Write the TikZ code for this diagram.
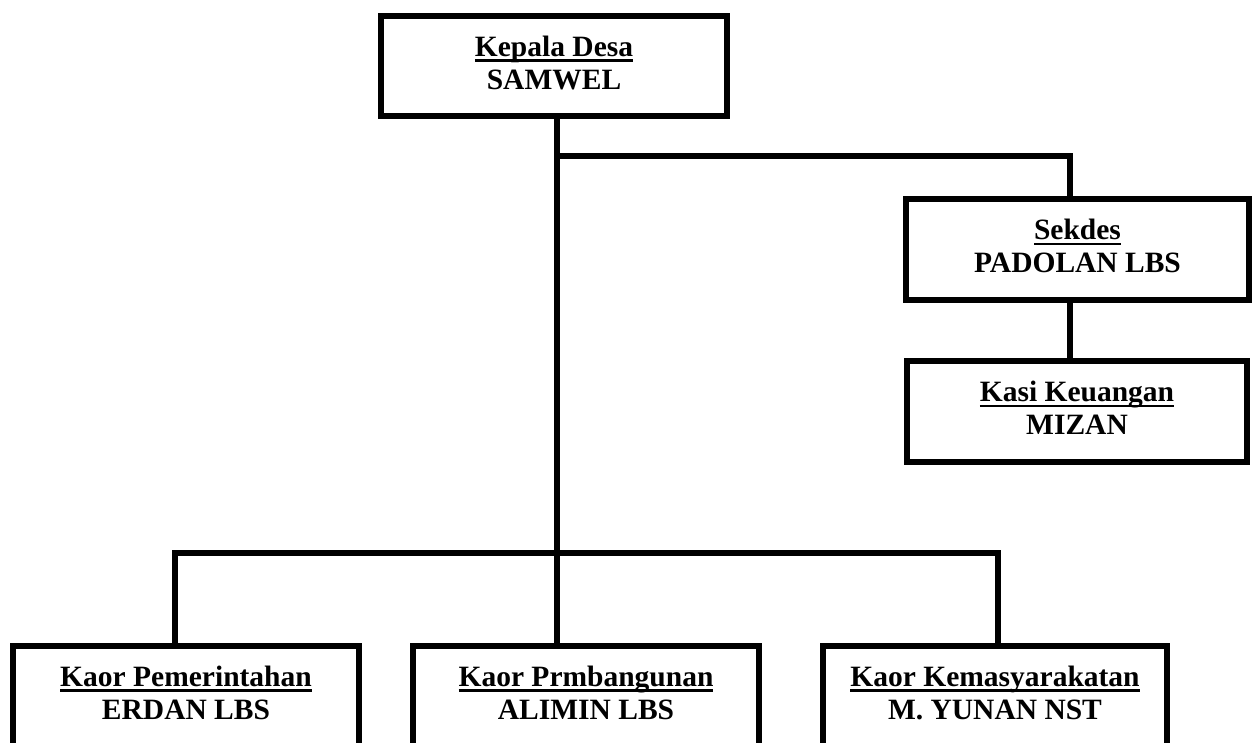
\documentclass[tikz,border=0pt]{standalone}
\usepackage{fontspec}
\setmainfont{Liberation Serif}
\newcommand\ulx[1]{\setbox0\hbox{#1}\rlap{\rule[-5.5pt]{\wd0}{2.3pt}}\box0}
\newcommand\dpx{\rule[-7pt]{0pt}{7pt}}
\tikzset{
  orgbox/.style={draw=black, line width=6pt, line join=miter, rectangle, align=center,
    inner sep=0pt, font=\fontsize{29.5pt}{33pt}\selectfont\bfseries},
  conn/.style={draw=black, line width=6pt, line join=miter}
}
\begin{document}
\begin{tikzpicture}[x=1pt,y=-1pt]
\useasboundingbox (0,0) rectangle (1252,742);
\clip (0,0) rectangle (1252,742);
% nodes
\node[orgbox, minimum width=346pt, minimum height=100pt] (kd) at (554,66) {\ulx{Kepala Desa}\\SAMWEL\dpx};
\node[orgbox, minimum width=343pt, minimum height=101pt] (sk) at (1077.5,249.5) {\ulx{Sekdes}\\PADOLAN LBS\dpx};
\node[orgbox, minimum width=340pt, minimum height=101pt] (ks) at (1077,411.5) {\ulx{Kasi Keuangan}\\MIZAN\dpx};
\node[orgbox, minimum width=346pt, minimum height=100pt] (b1) at (186,696) {\ulx{Kaor Pemerintahan}\\ERDAN LBS\dpx};
\node[orgbox, minimum width=346pt, minimum height=100pt] (b2) at (586,696) {\ulx{Kaor Prmbangunan}\\ALIMIN LBS\dpx};
\node[orgbox, minimum width=344pt, minimum height=100pt] (b3) at (995,696) {\ulx{Kaor Kemasyarakatan}\\M. YUNAN NST\dpx};
% junctions
\coordinate (ja) at (557,156);
\coordinate (jb) at (557,553);
\coordinate (sx) at (1070,0);
\coordinate (xl) at (175,0);
\coordinate (xr) at (998,0);
% connectors
\draw[conn] (kd.south -| ja) -- (jb);
\draw[conn] (ja) -| (sk.north -| sx);
\draw[conn] (sk.south -| sx) -- (ks.north -| sx);
\draw[conn] (jb) -| (b1.north -| xl);
\draw[conn] (jb) -| (b3.north -| xr);
\draw[conn] (jb) -- (b2.north -| jb);
\end{tikzpicture}
\end{document}
